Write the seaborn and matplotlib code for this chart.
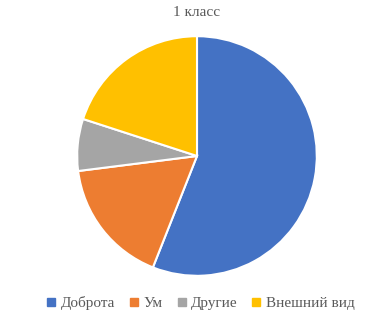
import matplotlib
matplotlib.use("Agg")
import matplotlib.pyplot as plt
import seaborn as sns
from matplotlib.lines import Line2D

categories = ["Доброта", "Ум", "Другие", "Внешний вид"]
values = [56, 17, 7, 20]
colors = ["#4472C4", "#ED7D31", "#A5A5A5", "#FFC000"]
title = "1 класс"

sns.set_theme(style="white")
plt.rcParams['font.family'] = ['Liberation Serif', 'DejaVu Serif']

W, H = 376, 325
fig = plt.figure(figsize=(W/100, H/100), dpi=100)
cx, cy, r = 197, 156, 121
ax = fig.add_axes([(cx - r)/W, (H - cy - r)/H, 2*r/W, 2*r/H])
ax.pie(values, colors=colors, startangle=90, counterclock=False,
       wedgeprops=dict(edgecolor="white", linewidth=1.5), radius=1)
ax.set_xlim(-1.01, 1.01)
ax.set_ylim(-1.01, 1.01)
ax.axis("off")

fig.text(cx/W, 1 - 12/H, title, ha="center", va="center", fontsize=11, color="#595959")

handles = [Line2D([0], [0], marker="s", linestyle="none", markersize=5.5,
                  markerfacecolor=c, markeredgecolor=c) for c in colors]
fig.legend(handles, categories, loc="center", bbox_to_anchor=(201/W, 1 - 303/H),
           ncol=4, frameon=False, fontsize=11, labelcolor="#595959",
           handlelength=0.5, handletextpad=0.35, columnspacing=1.0)

fig.savefig("out.png", dpi=100)
